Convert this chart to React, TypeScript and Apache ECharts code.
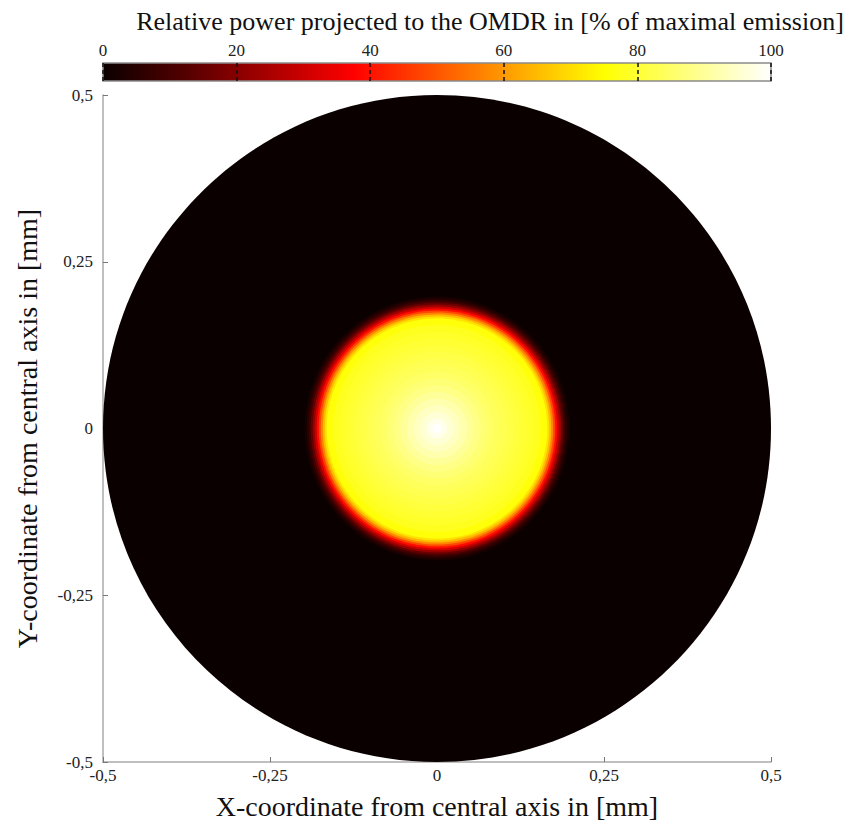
import React, { useEffect, useRef } from "react";
import * as echarts from "echarts";

// Radial profile of the projected power (radius in mm, power in % of maximal emission)
const profileRadius = [
  0.5, 0.198, 0.195, 0.192, 0.189, 0.186, 0.183, 0.18, 0.177, 0.174, 0.171, 0.168, 0.165,
  0.155, 0.145, 0.135, 0.125, 0.115, 0.105, 0.095, 0.085, 0.075, 0.065, 0.055, 0.045,
  0.035, 0.025, 0.015, 0.007,
];
const profilePower = [
  0, 2, 5, 9, 15, 22, 30, 39, 48, 57, 65, 71, 76,
  78, 79, 80, 81, 82, 83, 84, 85, 86.5, 88, 90, 92,
  94, 96, 98, 100,
];

// Hot colour map (evenly spaced from 0 to 100 %)
const hotColors = [
  "#0b0000", "#550000", "#aa0000", "#ff0000", "#ff5500",
  "#ffaa00", "#ffff00", "#ffff80", "#ffffff",
];

const axisTickValues = [-0.5, -0.25, 0, 0.25, 0.5];
const axisTickLabels = ["-0,5", "-0,25", "0", "0,25", "0,5"];
const colorbarTicks = [0, 20, 40, 60, 80, 100];

const titleText = "Relative power projected to the OMDR in [% of maximal emission]";
const xName = "X-coordinate from central axis in [mm]";
const yName = "Y-coordinate from central axis in [mm]";

const FONT = "'Liberation Serif', 'DejaVu Serif', serif";

function tickLabel(v: number) {
  const i = axisTickValues.findIndex((t) => Math.abs(t - v) < 1e-9);
  return i >= 0 ? axisTickLabels[i] : "";
}

export default function App() {
  const ref = useRef<HTMLDivElement>(null);
  useEffect(() => {
    if (!ref.current) return;
    const chart = echarts.init(ref.current, undefined, { renderer: "svg" });
    const spotData = profileRadius.map((r, i) => [r, profilePower[i]]);
    const n = hotColors.length;
    const gradientStops = hotColors.map((c, i) => ({ offset: i / (n - 1), color: c }));

    chart.setOption({
      animation: false,
      backgroundColor: "#ffffff",
      title: {
        text: titleText,
        left: 485,
        textAlign: "center",
        top: 3,
        textStyle: { fontFamily: FONT, fontSize: 26, fontWeight: "normal", color: "#111" },
      },
      grid: [
        { left: 103, right: 75, top: 95, bottom: 64 },
        { left: 103, right: 75, top: 63, height: 18 },
      ],
      xAxis: [
        {
          type: "value",
          gridIndex: 0,
          min: -0.5,
          max: 0.5,
          interval: 0.25,
          name: xName,
          nameLocation: "middle",
          nameGap: 30,
          nameTextStyle: { fontFamily: FONT, fontSize: 28, color: "#111" },
          axisLine: { show: true, onZero: false, lineStyle: { color: "#aaa", width: 1.5 } },
          axisTick: { show: true, inside: true, length: 5, lineStyle: { color: "#777" } },
          axisLabel: {
            formatter: (v: number) => tickLabel(v),
            fontFamily: FONT,
            fontSize: 17,
            color: "#222",
            margin: 5,
          },
          splitLine: { show: false },
        },
        {
          type: "value",
          gridIndex: 1,
          min: 0,
          max: 100,
          interval: 20,
          position: "top",
          z: 10,
          axisLine: { show: false },
          axisTick: { show: false },
          axisLabel: {
            formatter: (v: number) => (colorbarTicks.includes(v) ? String(v) : ""),
            fontFamily: FONT,
            fontSize: 17,
            color: "#222",
            margin: 4,
          },
          splitLine: {
            show: true,
            lineStyle: { color: "#111", type: [4, 3], width: 1.5 },
          },
        },
      ],
      yAxis: [
        {
          type: "value",
          gridIndex: 0,
          min: -0.5,
          max: 0.5,
          interval: 0.25,
          name: yName,
          nameLocation: "middle",
          nameGap: 62,
          nameTextStyle: { fontFamily: FONT, fontSize: 28, color: "#111" },
          axisLine: { show: true, onZero: false, lineStyle: { color: "#aaa", width: 1.5 } },
          axisTick: { show: true, inside: true, length: 5, lineStyle: { color: "#777" } },
          axisLabel: {
            formatter: (v: number) => tickLabel(v),
            fontFamily: FONT,
            fontSize: 17,
            color: "#222",
            margin: 10,
          },
          splitLine: { show: false },
        },
        {
          type: "value",
          gridIndex: 1,
          min: 0,
          max: 1,
          show: false,
        },
      ],
      visualMap: {
        type: "continuous",
        show: false,
        min: 0,
        max: 100,
        dimension: 1,
        seriesIndex: 0,
        inRange: { color: hotColors },
      },
      series: [
        {
          type: "custom",
          xAxisIndex: 0,
          yAxisIndex: 0,
          dimensions: ["radius", "power"],
          encode: { x: 0, y: 1 },
          data: spotData,
          clip: false,
          renderItem: (params: any, api: any) => {
            const r = api.value(0);
            const c = api.coord([0, 0]);
            const ex = api.coord([r, 0]);
            const ey = api.coord([0, r]);
            return {
              type: "ellipse",
              shape: { cx: c[0], cy: c[1], rx: ex[0] - c[0], ry: c[1] - ey[1] },
              style: { fill: api.visual("color"), stroke: null },
            };
          },
        },
        {
          type: "custom",
          xAxisIndex: 1,
          yAxisIndex: 1,
          z: 1,
          data: [[0, 0]],
          renderItem: (params: any, api: any) => {
            const p0 = api.coord([0, 0]);
            const p1 = api.coord([100, 1]);
            return {
              type: "rect",
              shape: { x: p0[0], y: p1[1], width: p1[0] - p0[0], height: p0[1] - p1[1] },
              style: {
                fill: new echarts.graphic.LinearGradient(0, 0, 1, 0, gradientStops),
                stroke: "#8a8a8a",
                lineWidth: 1.5,
              },
            };
          },
        },
      ],
    });
    return () => chart.dispose();
  }, []);
  return (
    <div
      ref={ref}
      style={{ position: "fixed", left: 0, top: 0, width: 846, height: 826 }}
    />
  );
}
